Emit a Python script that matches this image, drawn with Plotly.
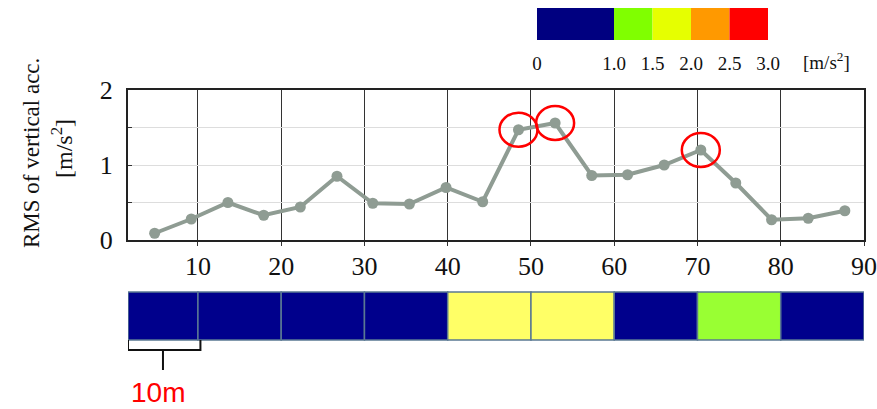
import plotly.graph_objects as go

# --- data -------------------------------------------------------------
# distance along the track [m] and RMS of vertical acceleration [m/s^2]
distance = [4.8, 9.2, 13.6, 17.9, 22.3, 26.7, 31.0, 35.4, 39.8, 44.2,
            48.5, 52.9, 57.3, 61.6, 66.0, 70.4, 74.6, 78.9, 83.3, 87.7]
rms_acc = [0.09, 0.28, 0.50, 0.33, 0.44, 0.85, 0.49, 0.48, 0.70, 0.51,
           1.47, 1.56, 0.86, 0.87, 1.00, 1.20, 0.76, 0.27, 0.29, 0.39]
# points marked as peaks
peak_index = [10, 11, 15]

# 10 m segments and the level class of each (index into level bins)
segment_edges = [1.6, 10, 20, 30, 40, 50, 60, 70, 80, 90]
segment_class = [0, 0, 0, 0, 2, 2, 0, 1, 0]

# level bins of the colour scale [m/s^2]
level_edges = [0, 1.0, 1.5, 2.0, 2.5, 3.0]
level_labels = ["0", "1.0", "1.5", "2.0", "2.5", "3.0"]

x_ticks = [10, 20, 30, 40, 50, 60, 70, 80, 90]

# --- styles -----------------------------------------------------------
W, H = 877, 409
SERIF = "Liberation Serif, Times New Roman, serif"
SANS = "Liberation Sans, Arial, sans-serif"
LINE_COL = "#8f9c93"
scale_colors = ["#000080", "#80ff00", "#e6ff00", "#ff9900", "#ff0000"]
strip_colors = ["#00008c", "#99ff33", "#ffff66", "#ff9900", "#ff0000"]


def px_x(p):
    return p / W


def px_y(p):
    return 1 - p / H


fig = go.Figure()

# main RMS curve
fig.add_trace(go.Scatter(
    x=distance, y=rms_acc, mode="lines+markers",
    line=dict(color=LINE_COL, width=4),
    marker=dict(color=LINE_COL, size=11),
    xaxis="x", yaxis="y", showlegend=False, hoverinfo="skip",
))

# colour scale bar
fig.add_trace(go.Bar(
    x=[level_edges[i + 1] - level_edges[i] for i in range(len(level_edges) - 1)],
    base=level_edges[:-1],
    y=[0] * (len(level_edges) - 1),
    orientation="h", width=1,
    marker=dict(color=scale_colors, line=dict(width=0)),
    xaxis="x3", yaxis="y3", showlegend=False, hoverinfo="skip",
))

shapes = []

# red rings around the peaks
for i in peak_index:
    shapes.append(dict(
        type="circle", xref="x", yref="y",
        xsizemode="pixel", ysizemode="pixel",
        xanchor=distance[i], yanchor=rms_acc[i],
        x0=-19, x1=19, y0=-17, y1=17,
        line=dict(color="#ff0000", width=2.5),
    ))

# segment strip below the chart
strip_top, strip_bot = px_y(292), px_y(340)
for i, cls in enumerate(segment_class):
    shapes.append(dict(
        type="rect", xref="x", yref="paper",
        x0=segment_edges[i], x1=segment_edges[i + 1],
        y0=strip_bot, y1=strip_top,
        fillcolor=strip_colors[cls],
        line=dict(color="#5a7893", width=1.5),
        layer="above",
    ))

# bracket marking one 10 m segment
bx0, bx1 = segment_edges[0], segment_edges[1] + 0.3
bmid = (segment_edges[0] + segment_edges[1]) / 2
b_top, b_bot, b_stem = px_y(340), px_y(350), px_y(370)
shapes.append(dict(
    type="path", xref="x", yref="paper",
    path=(f"M {bx0},{b_top} L {bx0},{b_bot} L {bx1},{b_bot} L {bx1},{b_top} "
          f"M {bmid},{b_bot} L {bmid},{b_stem}"),
    line=dict(color="#111111", width=2),
))

annotations = [
    dict(text="RMS of vertical acc.", textangle=-90,
         x=px_x(31), y=px_y(153), xref="paper", yref="paper",
         xanchor="center", yanchor="middle", showarrow=False,
         font=dict(family=SERIF, size=23, color="#111111")),
    dict(text="[m/s<sup>2</sup>]", textangle=-90,
         x=px_x(62), y=px_y(148), xref="paper", yref="paper",
         xanchor="center", yanchor="middle", showarrow=False,
         font=dict(family=SERIF, size=24, color="#111111")),
    dict(text="[m/s<sup>2</sup>]",
         x=px_x(826), y=px_y(61), xref="paper", yref="paper",
         xanchor="center", yanchor="middle", showarrow=False,
         font=dict(family=SERIF, size=19, color="#111111")),
    dict(text="10m", x=bmid, y=px_y(392), xref="x", yref="paper",
         xanchor="center", yanchor="middle", showarrow=False, xshift=-5,
         font=dict(family=SANS, size=28, color="#ff0000")),
]

fig.update_layout(
    width=W, height=H,
    margin=dict(l=0, r=0, t=0, b=0, autoexpand=False),
    paper_bgcolor="white", plot_bgcolor="white",
    font=dict(family=SERIF, color="#111111"),
    shapes=shapes, annotations=annotations,
    xaxis=dict(
        domain=[px_x(128), px_x(864)], range=[segment_edges[0], 90],
        anchor="y", tickvals=x_ticks, automargin=False,
        showgrid=True, gridcolor="#333333", gridwidth=1,
        ticks="outside", ticklen=4, tickcolor="#333333",
        showline=True, linecolor="#222222", linewidth=2, mirror=True,
        zeroline=False, tickfont=dict(size=26),
        ticklabelstandoff=-2,
    ),
    yaxis=dict(
        domain=[px_y(240), px_y(90)], range=[0, 2.0],
        anchor="x", automargin=False,
        tickvals=[0, 0.5, 1, 1.5, 2], ticktext=["0", "", "1", "", "2"],
        showgrid=True, gridcolor="#dddddd", gridwidth=1,
        ticks="inside", ticklen=4, tickcolor="#333333",
        showline=True, linecolor="#222222", linewidth=2, mirror=True,
        zeroline=False, tickfont=dict(size=26),
        ticklabelstandoff=8,
    ),
    xaxis3=dict(
        domain=[px_x(537), px_x(768)], range=[0, 3.0], anchor="y3",
        tickvals=level_edges, ticktext=level_labels, automargin=False,
        showgrid=False, zeroline=False, showline=False, ticks="",
        tickfont=dict(size=19), ticklabelstandoff=10,
    ),
    yaxis3=dict(
        domain=[px_y(40), px_y(8)], range=[-0.5, 0.5], anchor="x3",
        visible=False, automargin=False,
    ),
)

fig.write_html("out.html")
